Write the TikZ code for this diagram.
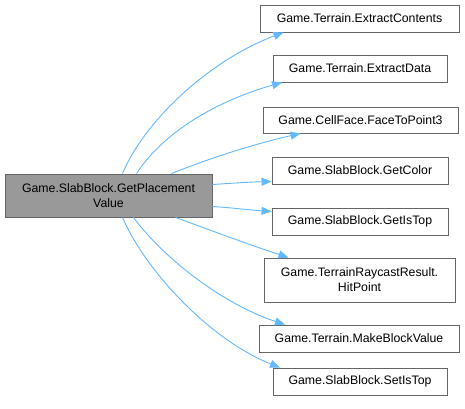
\documentclass[tikz,border=0pt]{standalone}
\usepackage{fontspec}
\setmainfont{Liberation Sans}
\usetikzlibrary{arrows.meta}
\definecolor{edgeblue}{HTML}{63B8FF}
\definecolor{boxline}{HTML}{666666}
\definecolor{mainfill}{HTML}{999999}
\tikzset{
  fn/.style={draw=boxline, fill=white, line width=0.9pt, inner sep=0pt, align=center,
    font=\fontsize{12.3}{15}\selectfont},
  mainfn/.style={fn, fill=mainfill},
  call/.style={draw=edgeblue, line width=0.9pt, -{Triangle[length=10pt,width=8pt]}}
}
\begin{document}
\begin{tikzpicture}[x=1pt,y=-1pt]
\useasboundingbox (0,0) rectangle (465,408);
\node[mainfn, minimum width=207pt, minimum height=43pt] (main) at (108.5,195.5) {Game.SlabBlock.GetPlacement\\Value};
\node[fn, minimum width=199pt, minimum height=27pt] (n1) at (359.5,18.5) {Game.Terrain.ExtractContents};
\node[fn, minimum width=174pt, minimum height=27pt] (n2) at (360,68.5) {Game.Terrain.ExtractData};
\node[fn, minimum width=195pt, minimum height=26pt] (n3) at (360.5,120) {Game.CellFace.FaceToPoint3};
\node[fn, minimum width=176pt, minimum height=27pt] (n4) at (360,170.5) {Game.SlabBlock.GetColor};
\node[fn, minimum width=176pt, minimum height=27pt] (n5) at (360,221.5) {Game.SlabBlock.GetIsTop};
\node[fn, minimum width=191pt, minimum height=44pt] (n6) at (359.5,280) {Game.TerrainRaycastResult.\\HitPoint};
\node[fn, minimum width=200pt, minimum height=27pt] (n7) at (359,338.5) {Game.Terrain.MakeBlockValue};
\node[fn, minimum width=174pt, minimum height=27pt] (n8) at (360,381.5) {Game.SlabBlock.SetIsTop};

\draw[call] ([xshift=14pt]main.north) .. controls (145,120) and (210,60) .. ([xshift=-76pt]n1.south);
\draw[call] ([xshift=28pt]main.north) .. controls (165,130) and (220,100) .. ([xshift=-78pt]n2.south);
\draw[call] ([xshift=63pt]main.north) .. controls (205,160) and (250,145) .. ([xshift=-60pt]n3.south);
\draw[call] ([yshift=11pt]main.east) .. controls (235,183) and (250,182) .. ([yshift=-11pt]n4.west);
\draw[call] ([yshift=-11pt]main.east) .. controls (235,208) and (250,210) .. ([yshift=10pt]n5.west);
\draw[call] ([xshift=67pt]main.south) .. controls (210,230) and (250,245) .. ([xshift=-71pt]n6.north);
\draw[call] ([xshift=25pt]main.south) .. controls (165,260) and (225,305) .. ([xshift=-74pt]n7.north);
\draw[call] ([xshift=14pt]main.south) .. controls (145,270) and (210,340) .. ([xshift=-80pt]n8.north);
\end{tikzpicture}
\end{document}
